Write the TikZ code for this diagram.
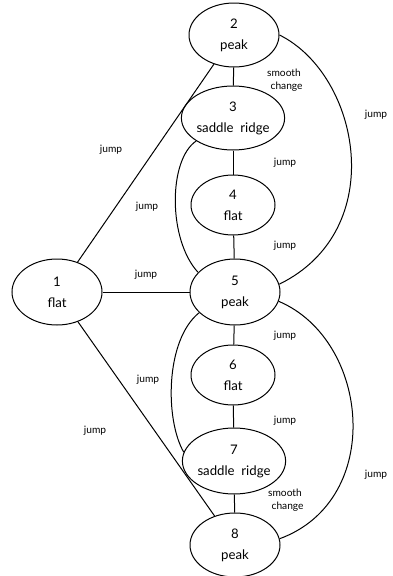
\documentclass[tikz,border=0pt]{standalone}
\usepackage{fontspec}
\setmainfont{Lato}
\usetikzlibrary{shapes.geometric}
\begin{document}
\begin{tikzpicture}[x=1pt,y=-1pt,
  state/.style={draw,line width=1pt,ellipse,minimum width=90pt,minimum height=64pt,
    inner sep=0pt,align=center,font=\fontsize{13.2}{21}\selectfont},
  lbl/.style={font=\fontsize{10.2}{12.5}\selectfont,align=center,inner sep=1pt},
  link/.style={line width=1pt}]
\useasboundingbox (0,0) rectangle (393,576);
% states
\node[state] (n2) at (234,35) {2\\peak};
\node[state] (n3) at (233,118) {3\\saddle\ \ ridge};
\node[state,minimum width=84pt,minimum height=60pt] (n4) at (233,205) {4\\flat};
\node[state,minimum height=66pt] (n5) at (235,292) {5\\peak};
\node[state,minimum height=66pt] (n1) at (57,292) {1\\flat};
\node[state,minimum width=84pt,minimum height=60pt] (n6) at (233,375) {6\\flat};
\node[state,minimum height=66pt] (n7) at (234,461) {7\\saddle\ \ ridge};
\node[state] (n8) at (235,545) {8\\peak};
% transitions
\draw[link] (n2) -- (n3);
\draw[link] (n3) -- (n4);
\draw[link] (n4) -- (n5);
\draw[link] (n5) -- (n6);
\draw[link] (n6) -- (n7);
\draw[link] (n7) -- (n8);
\draw[link] (n1) -- (n5);
\draw[link] (n1) -- (n2);
\draw[link] (n1) -- (n8);
\draw[link] (n2.east) .. controls (360,75) and (390,230) .. (n5.10);
\draw[link] (n3.-148) .. controls (168,160) and (168,240) .. (n5.152);
\draw[link] (n5.-150) .. controls (165,340) and (165,420) .. (n7.170);
\draw[link] (n5.-12) .. controls (370,340) and (385,500) .. (n8.8);
% labels
\node[lbl] (s1) at (284,80) {smooth\\\ \ change};
\node[lbl] (s2) at (285,500) {smooth\\\ \ change};
\node[lbl] (j1) at (111,150) {jump};
\node[lbl] (j2) at (376,115) {jump};
\node[lbl] (j3) at (147,207) {jump};
\node[lbl] (j4) at (285,163) {jump};
\node[lbl] (j5) at (285,246) {jump};
\node[lbl] (j6) at (146,275) {jump};
\node[lbl] (j7) at (285,336) {jump};
\node[lbl] (j8) at (148,380) {jump};
\node[lbl] (j9) at (285,421) {jump};
\node[lbl] (j10) at (95,431) {jump};
\node[lbl] (j11) at (376,475) {jump};
\end{tikzpicture}
\end{document}
